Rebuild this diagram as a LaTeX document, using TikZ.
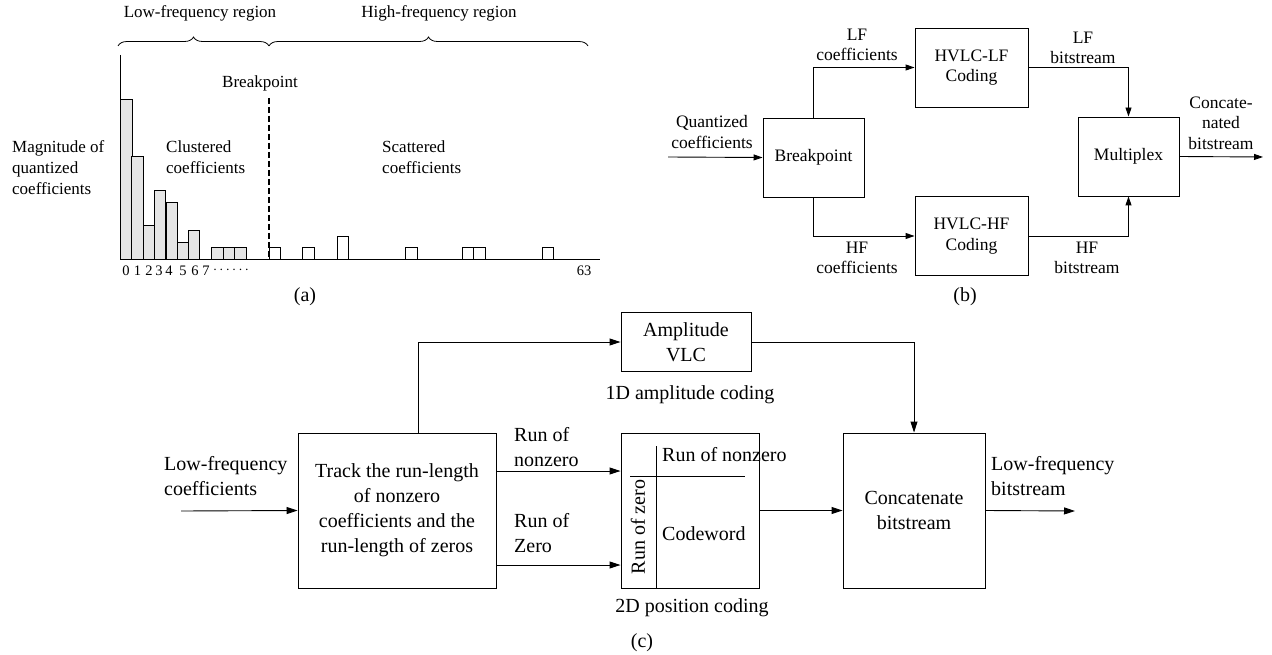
\documentclass[tikz,border=0pt]{standalone}
\usepackage{fontspec}
\setmainfont{Liberation Serif}
\usetikzlibrary{positioning, arrows.meta, decorations.pathreplacing}
\tikzset{
    txta/.style={font=\fontsize{17}{21}\selectfont, inner sep=0pt},
    txtb/.style={font=\fontsize{17.5}{20.5}\selectfont, inner sep=0pt, align=center},
    txtc/.style={font=\fontsize{20}{25}\selectfont, inner sep=0pt},
    subcap/.style={font=\fontsize{20}{24}\selectfont, inner sep=0pt},
    boxb/.style={draw, line width=0.9pt, txtb, minimum height=79pt},
    boxc/.style={draw, line width=0.9pt, txtc, align=center},
    arrb/.style={-{Triangle[length=9pt,width=6pt]}, line width=0.9pt},
    arrc/.style={-{Triangle[length=11pt,width=7pt]}, line width=0.9pt},
    cbar/.style={draw, fill=gray!20, line width=0.8pt},
    sbar/.style={draw, fill=white, line width=0.8pt},
    regbrace/.style={decorate, decoration={brace, amplitude=9pt}, line width=0.8pt}
}
\begin{document}
\begin{tikzpicture}[x=1pt, y=-1pt]
    \useasboundingbox (0,0) rectangle (1272,655);
    % (a) coefficient magnitudes
    \node[txta] (lfreg) at (200,13) {Low-frequency region};
    \node[txta] (hfreg) at (439,13) {High-frequency region};
    \draw[regbrace] (118,46) -- (269,46);
    \draw[regbrace] (269,46) -- (588,46);
    \draw[line width=0.8pt] (120,55) -- (120,259) -- (600,259);
    \foreach \bx/\by in {120.5/99.3, 131.7/156.7, 143.3/225, 154.3/190.7, 166/202.3, 177.7/242.3, 188.3/230, 211.7/247.7, 223.3/247.7, 234.6/247.7}
        \draw[cbar] (\bx,259) rectangle (\bx+11.5,\by);
    \foreach \bx/\by in {269.3/247.7, 302.7/247.7, 337.3/236, 405.7/247.7, 462.3/247.7, 473.6/247.7, 542.3/247.7}
        \draw[sbar] (\bx,259) rectangle (\bx+11.3,\by);
    \draw[line width=1.6pt, dash pattern=on 6pt off 3pt] (269,98) -- (269,259);
    \node[txta] (bplbl) at (260,83) {Breakpoint};
    \node[txta, align=left, anchor=west] (maglbl) at (12,168) {Magnitude of\\quantized\\coefficients};
    \node[txta, align=left, anchor=west] (clulbl) at (166,157.5) {Clustered\\coefficients};
    \node[txta, align=left, anchor=west] (scalbl) at (382,157.5) {Scattered\\coefficients};
    \foreach \dx/\dn in {126/0, 137.5/1, 149/2, 159/3, 169/4, 183/5, 195/6, 206/7}
        \node[font=\fontsize{14.5}{17}\selectfont, inner sep=0pt] at (\dx,271) {\dn};
    \node[font=\fontsize{14.5}{17}\selectfont, inner sep=0pt] (dots) at (231,270) {$\cdots\cdots$};
    \node[font=\fontsize{14.5}{17}\selectfont, inner sep=0pt] (last) at (584,271) {63};
    \node[subcap] (capa) at (305,297) {(a)};
    % (b) breakpoint split
    \coordinate (qin) at (668,157);
    \coordinate (bout) at (1263,157);
    \node[boxb, minimum width=101pt] (bp) at (813.5,157.5) {Breakpoint};
    \node[boxb, minimum width=113pt] (lfc) at (971.5,67.5) {HVLC-LF\\Coding};
    \node[boxb, minimum width=113pt] (hfc) at (971.5,236) {HVLC-HF\\Coding};
    \node[boxb, minimum width=101pt] (mux) at (1128.5,156.5) {Multiplex};
    \draw[arrb] (qin) -- (bp.west);
    \draw[arrb] (bp.north) |- (lfc.west);
    \draw[arrb] (bp.south) |- (hfc.west);
    \draw[arrb] (lfc.east) -| (mux.north);
    \draw[arrb] (hfc.east) -| (mux.south);
    \draw[arrb] (mux.east) -- (bout);
    \node[txtb] (qlbl) at (712,132) {Quantized\\coefficients};
    \node[txtb] (lflbl) at (857,45) {LF\\coefficients};
    \node[txtb] (hflbl) at (857,258) {HF\\coefficients};
    \node[txtb] (lfbs) at (1083,48) {LF\\bitstream};
    \node[txtb] (hfbs) at (1087,258) {HF\\bitstream};
    \node[txtb] (catbs) at (1221,123) {Concate-\\nated\\bitstream};
    \node[subcap] (capb) at (965,297) {(b)};
    % (c) low-frequency coding
    \coordinate (lfin) at (181,511);
    \coordinate (lfout) at (1075,511);
    \node[boxc, minimum width=198pt, minimum height=155pt] (trk) at (397,510.5) {Track the run-length\\of nonzero\\coefficients and the\\run-length of zeros};
    \node[boxc, minimum width=130pt, minimum height=59pt] (amp) at (686,342) {Amplitude\\VLC};
    \node[draw, line width=0.9pt, minimum width=138pt, minimum height=155pt] (pos) at (690,510.5) {};
    \node[boxc, minimum width=142pt, minimum height=155pt] (cat) at (914,510.5) {Concatenate\\bitstream};
    \draw[arrc] (lfin) -- (trk.west);
    \draw[arrc] ([xshift=21pt]trk.north) |- (amp.west);
    \draw[arrc] (amp.east) -| (cat.north);
    \draw[arrc] ([yshift=39.5pt]trk.east) -- ([yshift=39.5pt]pos.west);
    \draw[arrc] ([yshift=-54.5pt]trk.east) -- ([yshift=-54.5pt]pos.west);
    \draw[arrc] (pos.east) -- (cat.west);
    \draw[arrc] (cat.east) -- (lfout);
    \draw[line width=0.9pt] (656,446) -- (656,588);
    \draw[line width=0.9pt] (630,476) -- (745,476);
    \node[txtc, anchor=west] (rnz) at (662,455) {Run of nonzero};
    \node[txtc, anchor=west] (cw) at (662,534) {Codeword};
    \node[txtc, rotate=90] (rz) at (638,527) {Run of zero};
    \node[txtc, align=left, anchor=west] (lfcin) at (164,476.5) {Low-frequency\\coefficients};
    \node[txtc, align=left, anchor=west] (rnzl) at (514,447) {Run of\\nonzero};
    \node[txtc, align=left, anchor=west] (rzl) at (514,533.5) {Run of\\Zero};
    \node[txtc, align=left, anchor=west] (lfbo) at (991,476.5) {Low-frequency\\bitstream};
    \node[txtc] (amplbl) at (690,395) {1D amplitude coding};
    \node[txtc] (poslbl) at (692,608) {2D position coding};
    \node[subcap] (capc) at (642,643) {(c)};
\end{tikzpicture}
\end{document}
